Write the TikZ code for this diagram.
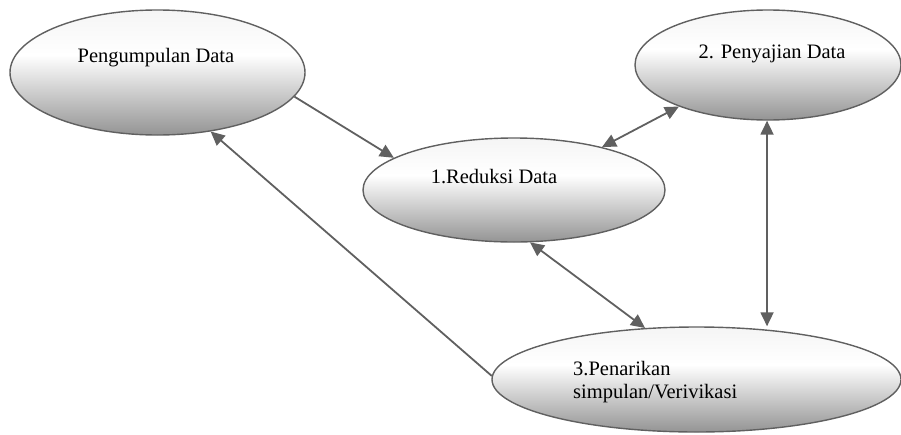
\documentclass[tikz,border=0pt]{standalone}
\usepackage{fontspec}
\setmainfont{Liberation Serif}
\usetikzlibrary{shapes.geometric,arrows.meta}

\definecolor{garis}{HTML}{606060}
\pgfdeclareverticalshading{oval}{100bp}{color(0bp)=(black!42); color(25bp)=(black!42);
  color(57bp)=(white); color(75bp)=(white!96!black); color(100bp)=(white!96!black)}

\tikzset{
  tahap/.style={ellipse, draw=garis, line width=1.4pt, shading=oval, inner sep=0pt},
  teks/.style={font=\fontsize{20.5}{23}\selectfont, inner sep=0pt},
  panah/.style={draw=garis, line width=1.8pt, -{Triangle[length=14pt,width=13pt]}},
  duaarah/.style={panah, {Triangle[length=14pt,width=13pt]}-{Triangle[length=14pt,width=13pt]}}
}

\begin{document}
\begin{tikzpicture}[x=1pt, y=-1pt]
  \useasboundingbox (0,0) rectangle (901,434);

  % tahapan analisis
  \node[tahap, minimum width=295pt, minimum height=125pt] (kumpul)  at (157.5,72.5) {};
  \node[tahap, minimum width=266pt, minimum height=110pt] (sajian)  at (768,65) {};
  \node[tahap, minimum width=302pt, minimum height=104pt] (reduksi) at (514,190) {};
  \node[tahap, minimum width=409pt, minimum height=105pt] (tarik)   at (696.5,379.5) {};

  \node[teks, anchor=base] (tkumpul)  at (156,62)  {Pengumpulan Data};
  \node[teks, anchor=base] (tsajian)  at (772,58)  {2. Penyajian Data};
  \node[teks, anchor=base] (treduksi) at (494,183) {1.Reduksi Data};
  \node[teks, anchor=base west, align=left] (ttarik) at (573,398) {3.Penarikan\\simpulan/Verivikasi};

  % hubungan
  \draw[panah]   (kumpul.-10)  -- (reduksi.165);
  \draw[duaarah] (reduksi.26)  -- (sajian.205);
  \draw[duaarah] (sajian.-91)  -- (sajian.-91 |- tarik.north);
  \draw[duaarah] (reduksi.-73) -- (tarik.135);
  \draw[panah]   (tarik.179)   -- (kumpul.-48);
\end{tikzpicture}
\end{document}
